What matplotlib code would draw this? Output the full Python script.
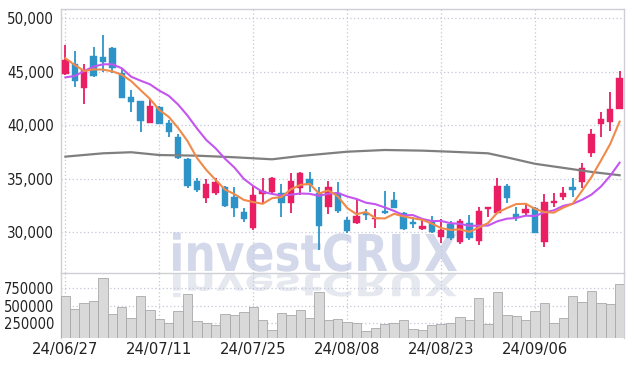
import numpy as np
import pandas as pd
import matplotlib
matplotlib.use("Agg")
import matplotlib.pyplot as plt
from matplotlib.textpath import TextPath
from matplotlib.patches import PathPatch
from matplotlib.font_manager import FontProperties, fontManager
import matplotlib.transforms as mtransforms

# ---------------- data ----------------
dates = pd.bdate_range("2024-06-27", "2024-09-24").drop(
    pd.to_datetime(["2024-08-15", "2024-09-16", "2024-09-17", "2024-09-18"]))

opens = [44770, 45730, 43510, 46480, 46410, 47250, 44920, 42620, 42270, 40240,
         41740, 40240, 38930, 36820, 34790, 33230, 33700, 34260, 33330, 31900,
         30370, 33550, 33740, 33640, 32770, 34170, 34980, 33700, 32390, 33640,
         31150, 30840, 31760, 31260, 32020, 33020, 31780, 30870, 30280, 30960,
         29590, 30770, 29120, 30910, 29210, 32170, 31830, 34330, 31680, 31780,
         32240, 29120, 32710, 33270, 34260, 34730, 37380, 40090, 40340, 41500]
highs = [47500, 46940, 45730, 47290, 48440, 47300, 45230, 43300, 42300, 42430,
         41800, 40500, 39190, 36910, 35050, 34980, 35100, 34300, 34210, 32240,
         34330, 35050, 35200, 34510, 35510, 35660, 35660, 34210, 34790, 34730,
         31460, 33110, 32180, 32150, 33860, 33790, 31930, 31460, 31150, 31520,
         31210, 31080, 31260, 31610, 32390, 32390, 35100, 34510, 32390, 32770,
         32400, 33550, 33700, 34260, 35050, 36510, 39630, 41210, 43080, 45100]
lows = [44700, 43550, 41990, 44540, 45010, 44920, 42520, 41270, 39350, 40190,
        40100, 38880, 36820, 34110, 33800, 32770, 33490, 32340, 31460, 30990,
        30190, 32770, 33700, 31400, 31790, 33490, 33790, 28350, 31710, 31770,
        29970, 30780, 31150, 30370, 31680, 32240, 30250, 30370, 30180, 29900,
        28970, 29280, 28880, 29280, 28820, 31400, 31770, 32770, 31080, 31520,
        29900, 28650, 32390, 33020, 33330, 34110, 37070, 38930, 39490, 41500]
closes = [46100, 44170, 45170, 44640, 45920, 45330, 42550, 42210, 40430, 41800,
          40120, 39400, 36970, 34330, 33950, 34470, 34730, 32450, 32240, 31210,
          33490, 33890, 35100, 32770, 34790, 35570, 34420, 30590, 34210, 31990,
          30120, 31520, 31680, 31340, 31780, 32300, 30310, 30820, 30590, 30050,
          30190, 29440, 31080, 29440, 32020, 32340, 34330, 33180, 31310, 32150,
          29970, 32800, 32950, 33640, 33950, 36040, 39190, 40590, 41500, 44390]
volumes = [638000, 459000, 532000, 565000, 895000, 376000, 474000, 328000, 638000, 435000,
           314000, 246000, 420000, 667000, 275000, 250000, 217000, 376000, 362000, 406000,
           474000, 289000, 144000, 396000, 362000, 435000, 328000, 692000, 299000, 314000,
           270000, 256000, 129000, 183000, 231000, 246000, 299000, 169000, 144000, 227000,
           241000, 250000, 337000, 299000, 605000, 231000, 692000, 362000, 347000, 299000,
           420000, 532000, 250000, 328000, 638000, 547000, 711000, 532000, 522000, 808000]

# moving-average values read off the chart where earlier history is not shown
ma5_head = [46260, 45640, 45070, 45230]
ma10_head = [44480, 44610, 45070, 45480, 45700, 45700, 45330, 44540, 44170]
# long moving average (gray) read at these candle positions
ma_long_idx = [0, 4, 7, 10, 14, 18, 22, 25, 30, 34, 38, 41, 45, 47, 50, 53, 56, 59]
ma_long_val = [37070, 37380, 37480, 37220, 37160, 37010, 36820, 37130, 37530, 37690,
               37630, 37530, 37380, 37000, 36400, 36020, 35640, 35330]

price_ticks = [30000, 35000, 40000, 45000, 50000]
volume_ticks = [250000, 500000, 750000]

# ---------------- style ----------------
UP = "#e91e63"
DOWN = "#2e94c8"
GRID = "#c3c7d9"


def pick_narrow_font():
    cands = []
    for f in fontManager.ttflist:
        nm = (f.name + " " + f.fname).lower()
        narrow = ("narrow" in nm or "condensed" in nm or
                  str(f.stretch) in ("condensed", "semi-condensed", "extra-condensed"))
        if narrow and f.style == "normal":
            w = f.weight if isinstance(f.weight, int) else 400
            cands.append((abs(w - 450), f.fname))
    if cands:
        cands.sort()
        return FontProperties(fname=cands[0][1]), True
    return FontProperties(family="Roboto"), False


tick_fp, is_narrow = pick_narrow_font()
plt.rcParams["font.family"] = ["Roboto", "DejaVu Sans"]

n = len(closes)
x = np.arange(n)
s_close = pd.Series(closes, dtype=float)
ma5 = s_close.rolling(5).mean().to_numpy()
ma10 = s_close.rolling(10).mean().to_numpy()
ma5[:len(ma5_head)] = ma5_head
ma10[:len(ma10_head)] = ma10_head

W, H = 634, 366
fig = plt.figure(figsize=(W / 100, H / 100), dpi=100)
fig.patch.set_facecolor("white")

left, right = 60.7, 624.3
top_main, split, bottom_vol = 9.3, 272.5, 338.0
ax = fig.add_axes([left / W, 1 - split / H, (right - left) / W, (split - top_main) / H])
axv = fig.add_axes([left / W, 1 - bottom_vol / H, (right - left) / W, (bottom_vol - split) / H],
                   sharex=ax)
for a in (ax, axv):
    a.set_facecolor("none")
    a.set_zorder(1)

# ---------------- watermark ----------------
fp = FontProperties(family="DejaVu Sans", weight="bold")
tp = TextPath((0, 0), "investCRUX", size=100, prop=fp)
bb = tp.get_extents()
x0_px, x1_px = 173, 457
base_img, cap_img = 271, 234
sx = (x1_px - x0_px) / bb.width
sy = (base_img - cap_img) / 72.9
tr = mtransforms.Affine2D().scale(sx, sy).translate(x0_px - bb.x0 * sx, H - base_img)
fig.patches.append(PathPatch(tp, transform=tr, facecolor="#d3d8ea", edgecolor="none", zorder=0))
tr2 = mtransforms.Affine2D().scale(sx, -sy * 0.6).translate(x0_px - bb.x0 * sx, H - base_img - 3)
fig.patches.append(PathPatch(tp, transform=tr2, facecolor="#e6e8f0", edgecolor="none", zorder=0))

# ---------------- candles ----------------
for i in range(n):
    o, h, l, c = opens[i], highs[i], lows[i], closes[i]
    col = UP if c > o else DOWN
    ax.vlines(x[i], l, h, color=col, lw=1.3, zorder=3)
    body = max(abs(c - o), 150)
    ax.bar(x[i], body, bottom=min(o, c) - (body - abs(c - o)) / 2, width=0.68,
           color=col, edgecolor=col, lw=0.3, zorder=4)

ax.plot(ma_long_idx, ma_long_val, color="#7f7f7f", lw=1.6, zorder=5)
ax.plot(x, ma10, color="#c455ee", lw=1.5, zorder=5)
ax.plot(x, ma5, color="#f08a4b", lw=1.5, zorder=6)

ax.set_xlim(-0.5, n - 0.5)
ax.set_ylim(26240, 50840)
ax.set_yticks(price_ticks)
ax.set_yticklabels([f"{v:,}" for v in price_ticks])

# ---------------- volume ----------------
axv.bar(x, volumes, width=1.0, color="#d9d9d9", edgecolor="#a9a9a9", lw=0.6, zorder=3)
axv.set_ylim(35000, 977000)
axv.set_yticks(volume_ticks)
axv.set_yticklabels([str(v) for v in volume_ticks])

tick_idx = list(range(0, n, 10))
axv.set_xticks(tick_idx)
axv.set_xticklabels([dates[i].strftime("%y/%m/%d") for i in tick_idx])

for a in (ax, axv):
    a.grid(True, color=GRID, linestyle=(0, (1, 2)), lw=0.9)
    a.set_axisbelow(True)
    a.tick_params(length=0, colors="#222222")
    for s in a.spines.values():
        s.set_color("#cfcfd6")
        s.set_linewidth(1.0)
ax.tick_params(axis="x", labelbottom=False)
axv.spines["bottom"].set_visible(False)
axv.spines["top"].set_visible(False)

if is_narrow:
    sizes = (10.8, 10.5, 11.8)
else:
    sizes = (9.3, 9.0, 9.6)
ax.tick_params(axis="y", pad=4.8)
axv.tick_params(axis="y", pad=4.8)
axv.tick_params(axis="x", pad=3)
for lab in ax.get_yticklabels():
    lab.set_fontproperties(tick_fp)
    lab.set_fontsize(sizes[0])
for lab in axv.get_yticklabels():
    lab.set_fontproperties(tick_fp)
    lab.set_fontsize(sizes[1])
for lab in axv.get_xticklabels():
    lab.set_fontproperties(tick_fp)
    lab.set_fontsize(sizes[2])

fig.savefig("out.png", dpi=100, facecolor="white")
